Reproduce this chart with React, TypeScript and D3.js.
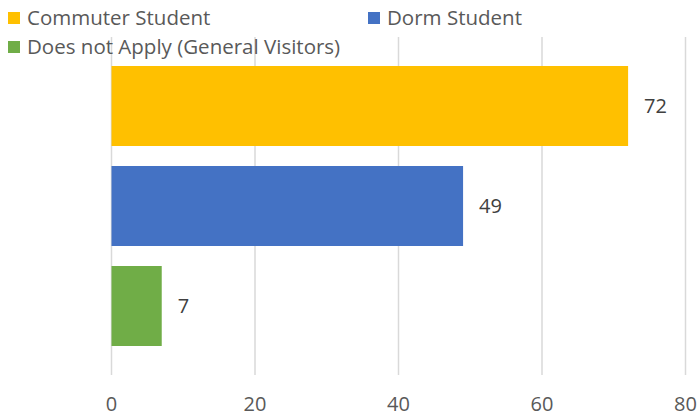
import React, { useEffect, useRef } from 'react';
import * as d3 from 'd3';

const categories = ['Commuter Student', 'Dorm Student', 'Does not Apply (General Visitors)'];
const counts = [72, 49, 7];
const colors = ['#FFC000', '#4472C4', '#70AD47'];
const xTicks = [0, 20, 40, 60, 80];

const FONT = '"Open Sans", sans-serif';

export default function App() {
  const svgRef = useRef<SVGSVGElement>(null);

  useEffect(() => {
    const width = 697;
    const height = 416;
    const svg = d3.select(svgRef.current).attr('width', width).attr('height', height);
    svg.selectAll('*').remove();

    const x = d3.scaleLinear().domain([0, 80]).range([111.5, 685.5]);
    const y = d3.scaleBand().domain(categories).range([56, 356]).paddingInner(0.2).paddingOuter(0.1);

    // gridlines
    svg
      .append('g')
      .selectAll('line')
      .data(xTicks)
      .enter()
      .append('line')
      .attr('x1', (d) => x(d))
      .attr('x2', (d) => x(d))
      .attr('y1', 37)
      .attr('y2', 375)
      .attr('stroke', '#d9d9d9')
      .attr('stroke-width', 1.5);

    // bars
    const rows = categories.map((c, i) => ({ c, v: counts[i], color: colors[i] }));
    svg
      .append('g')
      .selectAll('rect')
      .data(rows)
      .enter()
      .append('rect')
      .attr('x', x(0))
      .attr('y', (d) => y(d.c)!)
      .attr('width', (d) => x(d.v) - x(0))
      .attr('height', y.bandwidth())
      .attr('fill', (d) => d.color);

    // value labels
    svg
      .append('g')
      .selectAll('text')
      .data(rows)
      .enter()
      .append('text')
      .attr('x', (d) => x(d.v) + 16)
      .attr('y', (d) => y(d.c)! + y.bandwidth() / 2)
      .attr('dy', '0.35em')
      .attr('font-family', FONT)
      .attr('font-size', 20)
      .attr('fill', '#404040')
      .text((d) => d.v);

    // x axis labels
    svg
      .append('g')
      .selectAll('text')
      .data(xTicks)
      .enter()
      .append('text')
      .attr('x', (d) => x(d))
      .attr('y', 404)
      .attr('dy', '0.35em')
      .attr('text-anchor', 'middle')
      .attr('font-family', FONT)
      .attr('font-size', 20)
      .attr('fill', '#595959')
      .text((d) => d);

    // legend
    const legendPos = [
      { x: 8, y: 18 },
      { x: 368, y: 18 },
      { x: 8, y: 47 },
    ];
    const lg = svg
      .append('g')
      .selectAll('g')
      .data(rows)
      .enter()
      .append('g')
      .attr('transform', (_, i) => `translate(${legendPos[i].x},${legendPos[i].y})`);
    lg.append('rect')
      .attr('x', 0)
      .attr('y', -6)
      .attr('width', 12)
      .attr('height', 12)
      .attr('fill', (d) => d.color);
    lg.append('text')
      .attr('x', 19)
      .attr('y', 0)
      .attr('dy', '0.35em')
      .attr('font-family', FONT)
      .attr('font-size', 20.5)
      .attr('fill', '#595959')
      .text((d) => d.c);
  }, []);

  return (
    <svg ref={svgRef} style={{ position: 'absolute', left: 0, top: 0, background: '#fff' }}></svg>
  );
}
